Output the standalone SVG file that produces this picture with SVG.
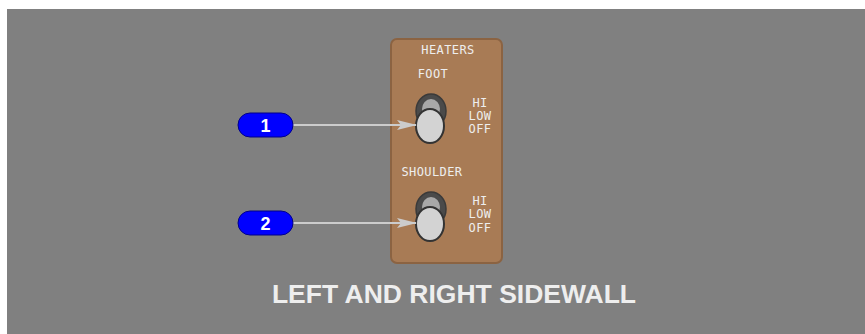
<svg xmlns="http://www.w3.org/2000/svg" width="865" height="334" viewBox="0 0 865 334">
<defs>
<style>
.lbl{font-family:"DejaVu Sans Mono",monospace;font-size:12px;fill:#eeeeee;letter-spacing:0.4px;text-anchor:middle}
.badge{fill:#0000ff;stroke:#00008b;stroke-width:1}
.bt{font-family:"Liberation Sans",Arial,sans-serif;font-weight:bold;font-size:18px;fill:#fff;text-anchor:middle}
.conn{stroke:#cccccc;stroke-width:2;fill:none}
.base{fill:#4a4a4a;stroke:#3a3a3a;stroke-width:1.5}
.inner{fill:#a8a8a8}
.lever{fill:#d3d3d3;stroke:#333;stroke-width:2}
</style>
<marker id="ah" markerWidth="20" markerHeight="12" refX="19" refY="6" orient="auto" markerUnits="userSpaceOnUse">
<polygon points="0,1 20,6 0,11 4,6" fill="#cccccc"/>
</marker>
</defs>
<rect x="7" y="9" width="858" height="325" fill="#808080"/>
<g id="panel">
<rect x="391" y="39" width="111" height="224" rx="6" fill="#a87b55" stroke="#8b6342" stroke-width="2"/>
<text class="lbl" x="448" y="54">HEATERS</text>
</g>
<g id="foot-switch">
<text class="lbl" x="433" y="78">FOOT</text>
<ellipse class="base" cx="431" cy="111" rx="15" ry="17"/>
<ellipse class="inner" cx="431" cy="109" rx="9" ry="10"/>
<ellipse class="lever" cx="430" cy="126" rx="14" ry="17"/>
<text class="lbl" x="480" y="107">HI</text>
<text class="lbl" x="480" y="120">LOW</text>
<text class="lbl" x="480" y="133">OFF</text>
</g>
<g id="shoulder-switch">
<text class="lbl" x="432" y="176">SHOULDER</text>
<ellipse class="base" cx="431" cy="209" rx="15" ry="17"/>
<ellipse class="inner" cx="431" cy="207" rx="9" ry="10"/>
<ellipse class="lever" cx="430" cy="224" rx="14" ry="17"/>
<text class="lbl" x="480" y="205">HI</text>
<text class="lbl" x="480" y="218">LOW</text>
<text class="lbl" x="480" y="232">OFF</text>
</g>
<g id="connectors">
<line class="conn" x1="293" y1="125" x2="416" y2="125" marker-end="url(#ah)"/>
<line class="conn" x1="293" y1="223" x2="416" y2="223" marker-end="url(#ah)"/>
</g>
<g id="badge1">
<rect class="badge" x="238" y="113" width="55" height="24" rx="12"/>
<text class="bt" x="265.5" y="131.5">1</text>
</g>
<g id="badge2">
<rect class="badge" x="238" y="211" width="55" height="24" rx="12"/>
<text class="bt" x="265.5" y="229.5">2</text>
</g>
<g id="title">
<text x="454" y="303" font-family="'Liberation Sans',Arial,sans-serif" font-weight="bold" font-size="26.5" fill="#eeeeee" text-anchor="middle">LEFT AND RIGHT SIDEWALL</text>
</g>
</svg>
